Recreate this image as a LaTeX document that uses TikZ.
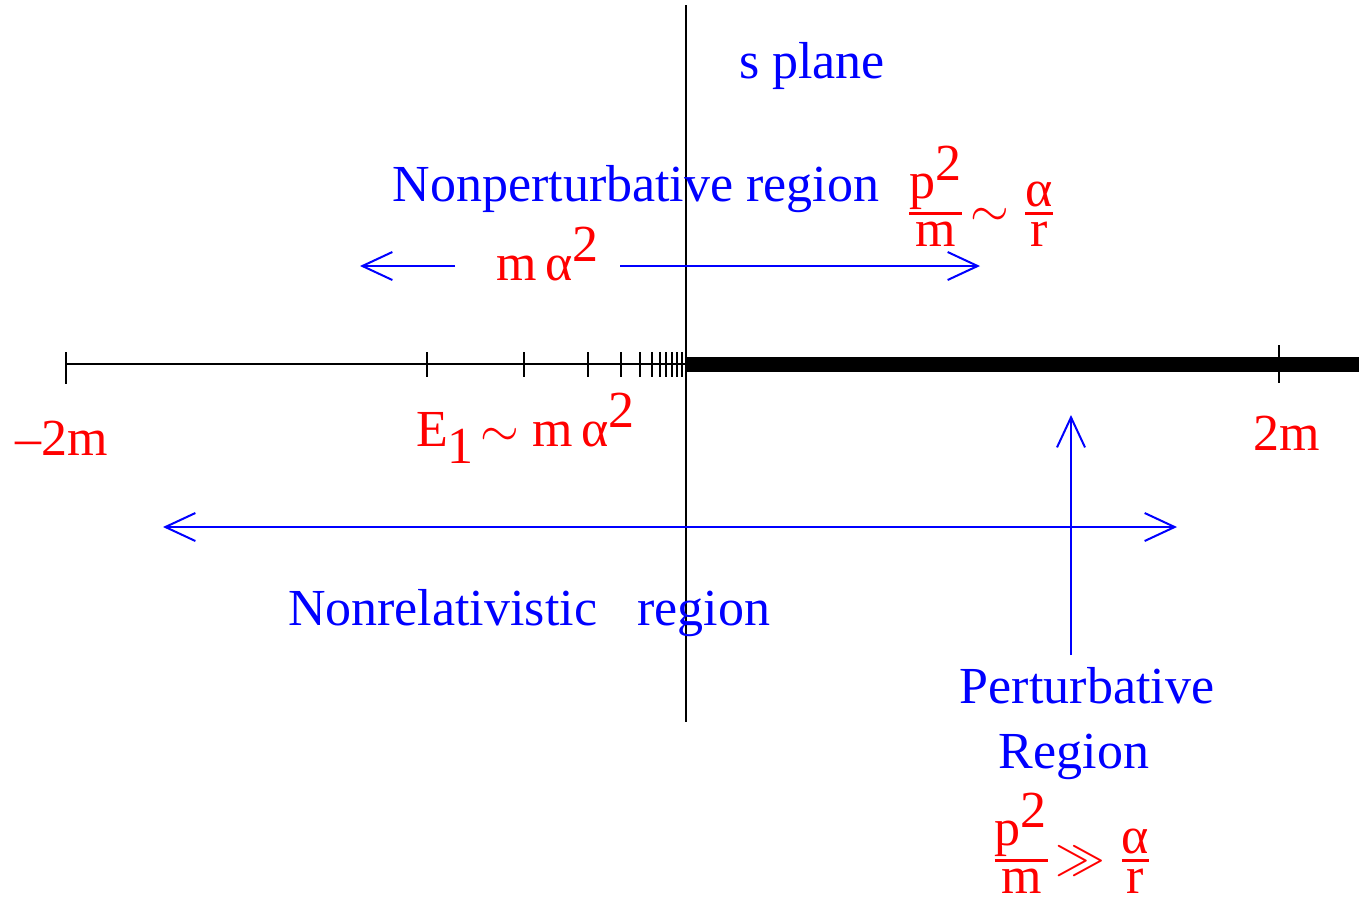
\documentclass[tikz,border=0pt]{standalone}
\usepackage{amsmath}
\usepackage{fontspec}
\setmainfont{Liberation Serif}
\usetikzlibrary{positioning, arrows.meta, calc}

\newcommand{\fr}[2]{\genfrac{}{}{1.2pt}{1}{\mbox{#1}}{\mbox{\rule{0pt}{0.56em}#2}}}

\begin{document}
\begin{tikzpicture}[x=0.5pt, y=-0.5pt, font=\fontsize{26}{30}\selectfont,
		lbl/.style={text=blue, inner sep=0pt},
		val/.style={text=red, inner sep=0pt},
		rng/.style={blue, line width=1pt, arrows={-Straight Barb[length=15pt, width=14pt]}}]
	\useasboundingbox (0,0) rectangle (1359,901);
	% axes
	\draw[line width=1pt] (686,5) -- (686,722);
	\draw[line width=1pt] (66,364) -- (686,364);
	\draw[line width=7.5pt] (686,364) -- (1359,364);
	\draw[line width=1pt] (66,352) -- (66,384);
	\draw[line width=1pt] (1279,345) -- (1279,383);
	\foreach \x in {427, 524, 588, 621, 640, 652, 660, 666, 672, 677, 682}{
		\draw[line width=1pt] (\x,352) -- (\x,377);
	}
	% labels
	\node[lbl, anchor=base] (splane) at (812,78) {s plane};
	\node[lbl, anchor=base] (nonpert) at (636,201) {Nonperturbative region};
	\node[val, anchor=base] (bound) at (981,226) {$\fr{p$^{\mbox{2}}$}{m}\!\sim\fr{α}{r}$};
	\node[val, anchor=base] (malpha) at (548,280) {$\mbox{m}\,\mbox{α}^{\mbox{2}}$};
	\node[val, anchor=base] (eone) at (526,446) {$\mbox{E}_{\mbox{1}}\!\sim\mbox{m}\,\mbox{α}^{\mbox{2}}$};
	\node[val, anchor=base] (mneg) at (62,455) {–2m};
	\node[val, anchor=base] (mpos) at (1287,450) {2m};
	\node[lbl, anchor=base] (nonrel) at (529,625) {Nonrelativistic\hspace{0.77em}region};
	\node[lbl, anchor=base] (pert) at (1087,703) {Perturbative};
	\node[lbl, anchor=base] (pregion) at (1074,768) {Region};
	\node[val, anchor=base] (pbound) at (1072,873) {$\fr{p$^{\mbox{2}}$}{m}\!\gg\fr{α}{r}$};
	% arrows
	\coordinate (la) at (455,266);
	\coordinate (lb) at (360,266);
	\coordinate (ra) at (620,266);
	\coordinate (rb) at (980,266);
	\coordinate (pa) at (1071,655);
	\coordinate (pb) at (1071,415);
	\coordinate (na) at (163,527);
	\coordinate (nb) at (1177,527);
	\draw[rng] (la) -- (lb);
	\draw[rng] (ra) -- (rb);
	\draw[rng] (pa) -- (pb);
	\draw[rng, arrows={Straight Barb[length=15pt, width=14pt]-Straight Barb[length=15pt, width=14pt]}] (na) -- (nb);
\end{tikzpicture}
\end{document}
